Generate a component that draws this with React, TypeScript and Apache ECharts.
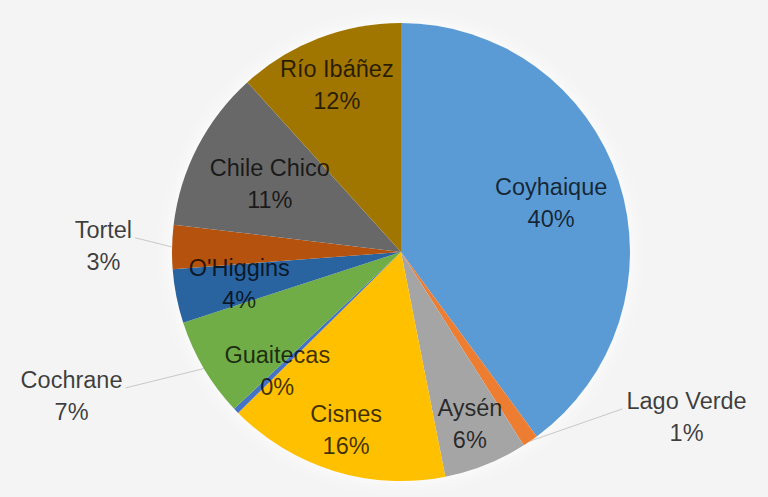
import { useEffect, useRef } from "react";
import * as echarts from "echarts";

// Data (shares of total, %)
const comunas = [
  "Coyhaique",
  "Lago Verde",
  "Aysén",
  "Cisnes",
  "Guaitecas",
  "Cochrane",
  "O'Higgins",
  "Tortel",
  "Chile Chico",
  "Río Ibáñez",
];
const shares = [39.9, 1.1, 5.9, 15.7, 0.4, 7.0, 3.8, 3.1, 11.4, 11.7];

// Styling / layout (not data)
const sliceColors = [
  "#5B9BD5",
  "#ED7D31",
  "#A5A5A5",
  "#FFC000",
  "#4472C4",
  "#70AD47",
  "#2A64A0",
  "#B5520E",
  "#686868",
  "#A07600",
];
const outsideLabel = [false, true, false, false, false, true, false, true, false, false];
const labelRadiusFactor = [0.69, 1.44, 0.81, 0.815, 0.75, 1.57, 0.72, 1.3, 0.645, 0.78];
const labelAngleOverride: (number | null)[] = [null, 120, null, null, null, 246.4, null, 271.2, null, null];

const CX = 401;
const CY = 252;
const R = 229;

export default function App() {
  const ref = useRef<HTMLDivElement>(null);

  useEffect(() => {
    if (!ref.current) return;
    const chart = echarts.init(ref.current, undefined, { renderer: "svg" });

    const total = shares.reduce((a, b) => a + b, 0);
    const midAngles: number[] = [];
    let acc = 0;
    shares.forEach((v) => {
      midAngles.push(((acc + v / 2) / total) * 360);
      acc += v;
    });
    const polar = (deg: number, dist: number): [number, number] => {
      const a = (deg * Math.PI) / 180;
      return [CX + dist * Math.sin(a), CY - dist * Math.cos(a)];
    };

    const data = comunas.map((name, i) => ({
      name,
      value: shares[i],
      itemStyle: { color: sliceColors[i] },
      label: { position: outsideLabel[i] ? "outside" : "inside" },
      labelLine: { show: outsideLabel[i] },
    }));

    chart.setOption({
      animation: false,
      backgroundColor: "#f4f4f4",
      series: [
        {
          type: "pie",
          silent: true,
          center: [CX, CY],
          radius: R,
          data: [{ value: 1, name: "" }],
          itemStyle: {
            color: "#ffffff",
            shadowBlur: 18,
            shadowColor: "rgba(255,255,255,1)",
          },
          label: { show: false },
          labelLine: { show: false },
          z: 1,
        },
        {
          type: "pie",
          z: 2,
          center: [CX, CY],
          radius: R,
          startAngle: 90,
          clockwise: true,
          avoidLabelOverlap: false,
          minShowLabelAngle: 0,
          data,
          itemStyle: { borderWidth: 0 },
          label: {
            show: true,
            formatter: (p: any) => `${p.name}\n${Math.round(p.percent)}%`,
            fontFamily: "'Liberation Sans', Arial, sans-serif",
            fontSize: 23.5,
            lineHeight: 32,
            color: "rgba(0,0,0,0.75)",
            align: "center",
          },
          labelLine: {
            lineStyle: { color: "#c8c8c8", width: 1 },
          },
          labelLayout: (params: any) => {
            const i = params.dataIndex;
            const ang = labelAngleOverride[i] ?? midAngles[i];
            const [x, y] = polar(ang, labelRadiusFactor[i] * R);
            const res: any = { x, y, align: "center", verticalAlign: "middle" };
            if (outsideLabel[i]) {
              const edge = polar(midAngles[i], R);
              const w = params.labelRect.width;
              const endX = x > CX ? x - w / 2 - 4 : x + w / 2 + 3;
              const endY = y - 8;
              res.labelLinePoints = [edge, [endX, endY], [endX, endY]];
            }
            return res;
          },
        },
      ],
    });

    return () => chart.dispose();
  }, []);

  return (
    <div
      ref={ref}
      style={{ position: "fixed", left: 0, top: 0, width: 768, height: 497 }}
    />
  );
}
